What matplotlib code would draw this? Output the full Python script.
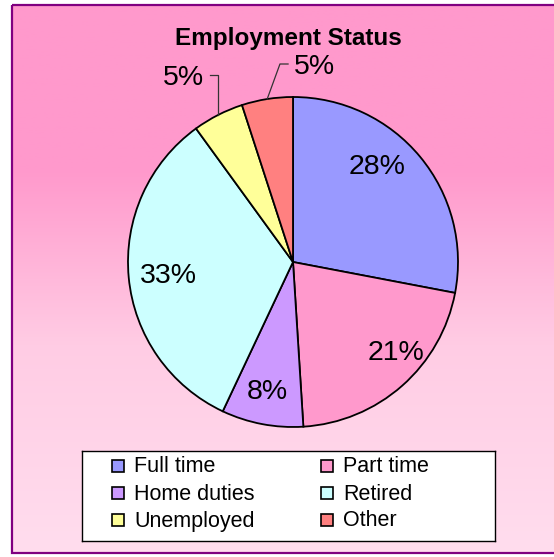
import numpy as np
import matplotlib
matplotlib.use("Agg")
import matplotlib.pyplot as plt
from matplotlib.patches import Rectangle
from matplotlib.colors import LinearSegmentedColormap

plt.rcParams['font.family'] = ['Liberation Sans', 'DejaVu Sans']

# ---- data ----
title = "Employment Status"
categories = ["Full time", "Part time", "Home duties", "Retired", "Unemployed", "Other"]
values = [28, 21, 8, 33, 5, 5]
colors = ["#9999FF", "#FF99CC", "#CC99FF", "#CCFFFF", "#FFFF99", "#FF8080"]

# ---- layout (pixel based) ----
W, H = 554, 557
fig = plt.figure(figsize=(W / 100, H / 100), dpi=100)

bg = fig.add_axes([0, 0, 1, 1])
bg.set_xlim(0, W)
bg.set_ylim(H, 0)
bg.axis('off')
grad = LinearSegmentedColormap.from_list(
    "g", [(0.0, "#FF99CC"), (0.30, "#FF99CC"), (0.62, "#FFCCE4"), (1.0, "#FFDDEE")])
g = np.linspace(0, 1, 256).reshape(-1, 1)
bg.imshow(g, cmap=grad, aspect='auto', extent=(12, W + 5, 553, 5), zorder=0)
bg.add_patch(Rectangle((12, 5), W, 548, fill=False, edgecolor="#800080", lw=1.6, zorder=1))

cx, cy, R = 293, 262, 165
ax = fig.add_axes([(cx - R) / W, (H - cy - R) / H, 2 * R / W, 2 * R / H])
wedges, _ = ax.pie(values, colors=colors, startangle=90, counterclock=False,
                   wedgeprops=dict(edgecolor="black", linewidth=1.3))
ax.set_xlim(-1, 1)
ax.set_ylim(-1, 1)
ax.set_aspect('auto')
ax.axis('off')

# label baseline positions (data coords)
label_pos = [(0.509, 0.533), (0.624, -0.594), (-0.158, -0.830),
             (-0.758, -0.127), (-0.661, 1.073), (0.133, 1.139)]
total = sum(values)
for v, (x, y) in zip(values, label_pos):
    ax.text(x, y, f"{round(100 * v / total)}%", ha='center', va='baseline',
            fontsize=20.5, color='black', clip_on=False)

# leader lines for the two small slices
def mid_point(w):
    th = np.deg2rad((w.theta1 + w.theta2) / 2)
    return np.cos(th), np.sin(th)

ux, uy = mid_point(wedges[4])
ax.plot([-0.503, ux, ux], [1.133, 1.133, uy], color="#333333", lw=0.9, clip_on=False)
ox, oy = mid_point(wedges[5])
ax.plot([-0.030, -0.079, ox], [1.2, 1.2, oy], color="#333333", lw=0.9, clip_on=False)

fig.text(288 / W, 1 - 45 / H, title, ha='center', va='baseline',
         fontsize=17.5, fontweight='bold')

# legend box
lx0, ly0, lx1, ly1 = 82, 451, 495, 541
lg = fig.add_axes([lx0 / W, (H - ly1) / H, (lx1 - lx0) / W, (ly1 - ly0) / H])
lg.set_xlim(lx0, lx1)
lg.set_ylim(ly1, ly0)
lg.set_xticks([])
lg.set_yticks([])
lg.set_facecolor("white")
for s in lg.spines.values():
    s.set_color("black")
    s.set_linewidth(1.0)
col_x = [112, 321]
row_y = [466, 493, 520]
for i, (cat, w) in enumerate(zip(categories, wedges)):
    r, c = divmod(i, 2)
    x, y = col_x[c], row_y[r]
    lg.add_patch(Rectangle((x, y - 6), 12, 12, facecolor=w.get_facecolor(),
                           edgecolor="black", lw=1.2))
    lg.text(x + 22, y + 1, cat, ha='left', va='center', fontsize=15.5)

fig.savefig("out.png", dpi=100)
